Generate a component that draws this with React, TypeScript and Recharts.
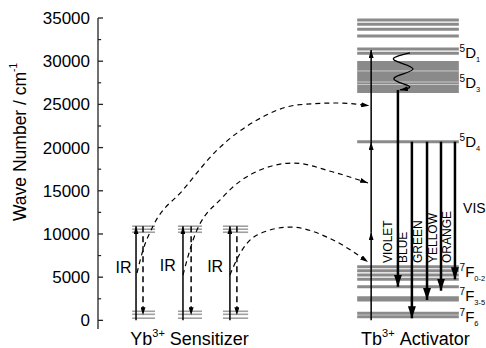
import React from 'react';
import { ComposedChart, XAxis, YAxis, Line, ReferenceLine, ReferenceArea, Scatter } from 'recharts';

const FONT = 'Arial, "Liberation Sans", Helvetica, sans-serif';

// ---------- axes ----------
const yMajorTicks = [0, 5000, 10000, 15000, 20000, 25000, 30000, 35000];
const yMinorTicks = [2500, 7500, 12500, 17500, 22500, 27500, 32500];
const yDomain = [-1000, 35000];
const xDomain = [0, 100];

// ---------- bottom ion labels ----------
const ionLabels = [
  { x: 23.6, ion: 'Yb', charge: '3+', role: 'Sensitizer' },
  { x: 81.8, ion: 'Tb', charge: '3+', role: 'Activator' },
];

// ---------- Yb3+ sensitizer ----------
const ybLevelSpans = [[8.8, 14.7], [20.6, 26.8], [32.2, 38.7]];
const ybExcitedLevels = [10200, 10550, 10900];
const ybGroundLevels = [250, 700, 1050];
const ybPumpX = [9.8, 21.9, 34.0];
const ybDecayX = [11.6, 24.0, 35.8];
const ybPump = { from: 0, to: 10900 };
const ybDecay = { from: 10900, to: 600 };
const irLabels = [
  { x: 6.6, y: 6100, text: 'IR' },
  { x: 18.0, y: 6400, text: 'IR' },
  { x: 30.2, y: 6200, text: 'IR' },
];

// ---------- energy transfer arcs (Yb -> Tb) ----------
const transferArc1 = [
  { x: 10.05, y: 5480 }, { x: 11.6, y: 8140 }, { x: 14.2, y: 10920 }, { x: 21.9, y: 15090 },
  { x: 30.7, y: 19720 }, { x: 41.0, y: 23190 }, { x: 51.3, y: 24930 }, { x: 61.6, y: 25160 },
  { x: 69.9, y: 24850 },
];
const transferArc2 = [
  { x: 21.9, y: 5250 }, { x: 24.5, y: 9300 }, { x: 32.2, y: 14280 }, { x: 41.75, y: 17400 },
  { x: 50.3, y: 18210 }, { x: 60.6, y: 17170 }, { x: 69.6, y: 15900 },
];
const transferArc3 = [
  { x: 34.0, y: 5250 }, { x: 36.1, y: 7330 }, { x: 41.0, y: 9880 }, { x: 49.5, y: 10800 },
  { x: 60.6, y: 9300 }, { x: 69.6, y: 6750 },
];

// ---------- Tb3+ activator ----------
const tbLevelSpan = [66.8, 93.0];
const tbUpperLevels = [34770, 34270, 33690, 32920, 31410, 30910];
const tb5D3Band = { from: 26320, to: 30020 };
const tb5D3Gaps = [27300, 27590, 28870];
const tb5D4Level = 20680;
const tb7FLevels = [6210, 5750, 5250, 4750, 3890, 2620, 2360, 820, 420];
const tbLadderX = 70.4;
const tbLadder = [[0, 10200], [10200, 20650], [20650, 31300]];
const tbRelaxWave = [
  { x: 80.4, y: 30950 }, { x: 76.3, y: 30140 }, { x: 81.2, y: 29100 },
  { x: 76.3, y: 28050 }, { x: 80.1, y: 27130 }, { x: 77.8, y: 26670 },
];
const emissions = [
  { label: 'VIOLET', x: 77.3, from: 26670, to: 3890, labelX: 74.7 },
  { label: 'BLUE', x: 80.9, from: 20680, to: 240, labelX: 78.6 },
  { label: 'GREEN', x: 84.8, from: 20680, to: 2360, labelX: 82.5 },
  { label: 'YELLOW', x: 88.4, from: 20680, to: 3430, labelX: 86.3 },
  { label: 'ORANGE', x: 92.0, from: 20680, to: 4750, labelX: 90.0 },
];
const emissionLabelBase = 6640;
const levelLabels = [
  { x: 93.2, y: 31060, mult: '5', term: 'D', j: '1' },
  { x: 93.2, y: 27480, mult: '5', term: 'D', j: '3' },
  { x: 93.2, y: 20650, mult: '5', term: 'D', j: '4' },
  { x: 93.2, y: 5710, mult: '7', term: 'F', j: '0-2' },
  { x: 93.2, y: 2930, mult: '7', term: 'F', j: '3-5' },
  { x: 93.2, y: 390, mult: '7', term: 'F', j: '6' },
];
const visLabel = [{ x: 94.1, y: 13000, text: 'VIS' }];

const LEVEL_GREY = '#8a8a8a';
const YB_GREY = '#a0a0a0';

const IonTick = (props: any) => {
  const { x, y, payload } = props;
  const item = ionLabels.find((d) => d.x === payload.value);
  if (!item) return null;
  return (
    <text x={x} y={y + 16} textAnchor="middle" fontSize={18} fill="#000" fontFamily={FONT}>
      {item.ion}
      <tspan dy={-8} fontSize={11}>{item.charge}</tspan>
      <tspan dy={8}>{'\u00A0' + item.role}</tspan>
    </text>
  );
};

const YLabel = (props: any) => {
  const vb = props.viewBox || { x: 0, y: 18, width: 98, height: 311 };
  const cx = vb.x + 20;
  const cy = vb.y + 124;
  return (
    <text x={cx} y={cy} transform={`rotate(-90 ${cx} ${cy})`} textAnchor="middle" dominantBaseline="central" fontSize={17.5} fill="#000" fontFamily={FONT}>
      Wave Number / cm<tspan dy={-7} fontSize={10}>-1</tspan>
    </text>
  );
};

const LevelLabelShape = (props: any) => {
  const { cx, cy, payload } = props;
  return (
    <text x={cx} y={cy + 5.5} fontSize={15} fill="#000" fontFamily={FONT}>
      <tspan fontSize={10} dy={-6}>{payload.mult}</tspan>
      <tspan dy={6}>{payload.term}</tspan>
      <tspan fontSize={7.5} dy={4}>{payload.j}</tspan>
    </text>
  );
};

const EmissionLabelShape = (props: any) => {
  const { cx, cy, payload } = props;
  return (
    <text x={cx} y={cy} transform={`rotate(-90 ${cx} ${cy})`} fontSize={12} dominantBaseline="central" textAnchor="start" fill="#000" fontFamily={FONT}>
      {payload.label}
    </text>
  );
};

const CenterTextShape = (size: number, anchor: string) => (props: any) => {
  const { cx, cy, payload } = props;
  return (
    <text x={cx} y={cy} fontSize={size} dominantBaseline="central" textAnchor={anchor} fill="#000" fontFamily={FONT}>
      {payload.text}
    </text>
  );
};

const seg = (x1: number, x2: number, y: number) => [{ x: x1, y }, { x: x2, y }];

export default function App() {
  const emissionLabelData = emissions.map((e) => ({ x: e.labelX, y: emissionLabelBase, label: e.label }));
  return (
    <div style={{ position: 'absolute', left: 0, top: 0, width: 486, height: 348, background: '#fff' }}>
      <svg width={0} height={0} style={{ position: 'absolute' }}>
        <defs>
          <marker id="arrowS" viewBox="0 0 8 5" refX={8} refY={2.5} markerWidth={8} markerHeight={5} markerUnits="userSpaceOnUse" orient="auto">
            <path d="M0,0 L8,2.5 L0,5 z" fill="#000" />
          </marker>
          <marker id="arrowL" viewBox="0 0 12 8" refX={12} refY={4} markerWidth={12} markerHeight={8} markerUnits="userSpaceOnUse" orient="auto">
            <path d="M0,0 L12,4 L0,8 z" fill="#000" />
          </marker>
        </defs>
      </svg>
      <ComposedChart width={486} height={348} margin={{ top: 18, right: 0, bottom: 0, left: 0 }} style={{ fontFamily: FONT, overflow: 'visible' }}>
        <XAxis
          type="number"
          dataKey="x"
          domain={xDomain}
          ticks={ionLabels.map((l) => l.x)}
          tick={<IonTick />}
          axisLine={false}
          tickLine={false}
          tickSize={0}
          tickMargin={0}
          height={19}
          interval={0}
        />
        <YAxis
          type="number"
          dataKey="y"
          domain={yDomain}
          ticks={yMajorTicks}
          width={98}
          tickLine={false}
          tickSize={0}
          tickMargin={8}
          interval={0}
          axisLine={{ stroke: '#222', strokeWidth: 1.3 }}
          tick={{ fontSize: 17, fill: '#000', fontFamily: FONT }}
          label={{ content: YLabel }}
        />

        {/* axis tick marks (inward) */}
        {yMajorTicks.map((v) => (
          <ReferenceLine key={'mj' + v} segment={seg(0, 1.3, v)} stroke="#222" strokeWidth={1.3} ifOverflow="visible" />
        ))}
        {yMinorTicks.map((v) => (
          <ReferenceLine key={'mn' + v} segment={seg(0, 0.8, v)} stroke="#222" strokeWidth={1.2} ifOverflow="visible" />
        ))}

        {/* Yb levels */}
        {ybLevelSpans.map((s, i) =>
          ybExcitedLevels.concat(ybGroundLevels).map((e) => (
            <ReferenceLine key={`yb${i}-${e}`} segment={seg(s[0], s[1], e)} stroke={YB_GREY} strokeWidth={1.6} ifOverflow="visible" />
          ))
        )}

        {/* Tb levels */}
        <ReferenceArea x1={tbLevelSpan[0]} x2={tbLevelSpan[1]} y1={tb5D3Band.from} y2={tb5D3Band.to} fill={LEVEL_GREY} fillOpacity={1} stroke="none" ifOverflow="visible" />
        {tb5D3Gaps.map((e) => (
          <ReferenceLine key={'gap' + e} segment={seg(tbLevelSpan[0], tbLevelSpan[1], e)} stroke="#c8c8c8" strokeWidth={1} ifOverflow="visible" />
        ))}
        {tbUpperLevels.concat([tb5D4Level], tb7FLevels).map((e) => (
          <ReferenceLine key={'tb' + e} segment={seg(tbLevelSpan[0], tbLevelSpan[1], e)} stroke={LEVEL_GREY} strokeWidth={3} ifOverflow="visible" />
        ))}

        {/* Yb pump & decay arrows */}
        {ybPumpX.map((x, i) => (
          <Line key={'pump' + i} data={[{ x, y: ybPump.from }, { x, y: ybPump.to }]} dataKey="y" type="linear" stroke="#000" strokeWidth={1.5} dot={false} activeDot={false} isAnimationActive={false} markerEnd="url(#arrowS)" />
        ))}
        {ybDecayX.map((x, i) => (
          <Line key={'decay' + i} data={[{ x, y: ybDecay.from }, { x, y: ybDecay.to }]} dataKey="y" type="linear" stroke="#000" strokeWidth={1.5} strokeDasharray="6 4" dot={false} activeDot={false} isAnimationActive={false} markerEnd="url(#arrowS)" />
        ))}

        {/* energy transfer arcs */}
        {[transferArc1, transferArc2, transferArc3].map((arc, i) => (
          <Line key={'arc' + i} data={arc} dataKey="y" type="monotone" stroke="#000" strokeWidth={1.2} strokeDasharray="5 4" dot={false} activeDot={false} isAnimationActive={false} markerEnd="url(#arrowS)" />
        ))}

        {/* Tb excitation ladder */}
        {tbLadder.map((s, i) => (
          <Line key={'lad' + i} data={[{ x: tbLadderX, y: s[0] }, { x: tbLadderX, y: s[1] }]} dataKey="y" type="linear" stroke="#000" strokeWidth={1.5} dot={false} activeDot={false} isAnimationActive={false} markerEnd="url(#arrowS)" />
        ))}

        {/* non-radiative relaxation */}
        <Line data={tbRelaxWave} dataKey="y" type="natural" stroke="#000" strokeWidth={1.3} dot={false} activeDot={false} isAnimationActive={false} markerEnd="url(#arrowS)" />

        {/* emissions */}
        {emissions.map((e) => (
          <Line key={'em' + e.label} data={[{ x: e.x, y: e.from }, { x: e.x, y: e.to }]} dataKey="y" type="linear" stroke="#000" strokeWidth={2.5} dot={false} activeDot={false} isAnimationActive={false} markerEnd="url(#arrowL)" />
        ))}

        {/* text labels */}
        <Scatter data={irLabels} shape={CenterTextShape(16, 'middle')} isAnimationActive={false} />
        <Scatter data={emissionLabelData} shape={EmissionLabelShape} isAnimationActive={false} />
        <Scatter data={levelLabels} shape={LevelLabelShape} isAnimationActive={false} />
        <Scatter data={visLabel} shape={CenterTextShape(14, 'start')} isAnimationActive={false} />
      </ComposedChart>
    </div>
  );
}
